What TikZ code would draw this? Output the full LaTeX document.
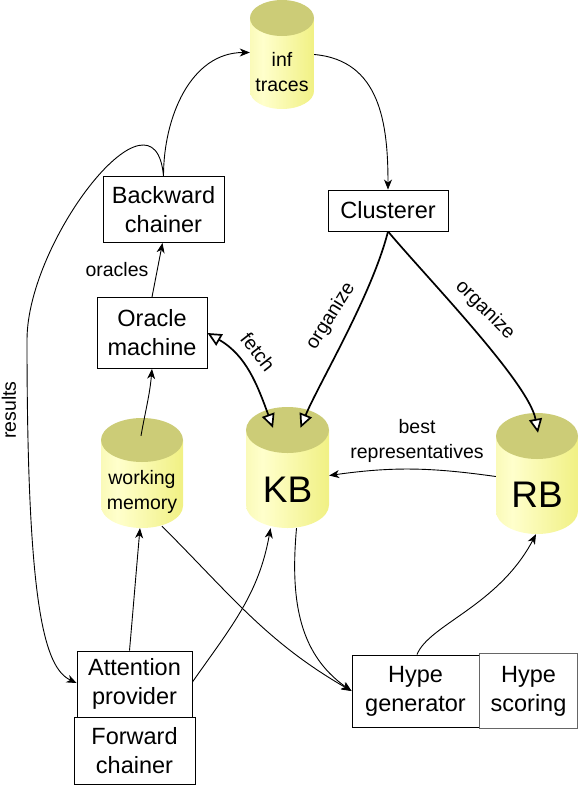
\documentclass[tikz,border=0pt]{standalone}
\usepackage{fontspec}
\setmainfont{Liberation Sans}
\usetikzlibrary{arrows.meta}

\definecolor{cylA}{HTML}{EEEE88}
\definecolor{cylB}{HTML}{FFFFCC}
\definecolor{cylC}{HTML}{EEEE77}
\definecolor{cylD}{HTML}{A8A850}
\definecolor{cylTop}{HTML}{CCCC77}
\pgfdeclarehorizontalshading{cylbody}{100bp}{color(0bp)=(cylA); color(35bp)=(cylB); color(82bp)=(cylC); color(100bp)=(cylD)}

\tikzset{
  stl/.tip={Stealth[length=10pt,width=8pt,inset=3pt]},
  tri/.tip={Triangle[open,length=14pt,width=13pt,fill=white]}
}

\begin{document}
\begin{tikzpicture}[x=1pt, y=1pt,
    box/.style={draw, line width=0.9pt, align=center, inner sep=0pt, font=\fontsize{23.5}{29}\selectfont},
    lbl/.style={align=center, inner sep=0pt, font=\fontsize{19.5}{24.5}\selectfont},
    cyl/.style n args={3}{minimum width=#1, minimum height=#2, inner sep=0pt,
      path picture={
        \shade[shading=cylbody] ([yshift=#3]path picture bounding box.south west)
          arc[start angle=180, end angle=360, x radius=#1/2, y radius=#3]
          -- ([yshift=-#3]path picture bounding box.north east)
          -- ([yshift=-#3]path picture bounding box.north west) -- cycle;
        \fill[cylTop] ([yshift=-#3]path picture bounding box.north) ellipse[x radius=#1/2, y radius=#3];
      }},
    arr/.style={-stl, line width=0.9pt},
    fat/.style={-tri, line width=1.7pt}]
    \useasboundingbox (0, 0) rectangle (580, -785);

    % stores
    \node [cyl={64pt}{109pt}{18pt}] (inf) at (282, -54.5) {};
    \node [lbl] (inftxt) at ([yshift=-17.5pt]inf.center) {inf\\traces};
    \node [cyl={82pt}{110pt}{22pt}] (wm) at (142, -473) {};
    \node [lbl] (wmtxt) at ([yshift=-19pt]wm.center) {working\\memory};
    \node [cyl={83pt}{121pt}{23pt}] (kb) at (287.5, -467.5) {};
    \node [inner sep=0pt, font=\fontsize{37}{40}\selectfont] (kbtxt) at ([yshift=-22.5pt]kb.center) {KB};
    \node [cyl={82pt}{121pt}{23pt}] (rb) at (537, -473.5) {};
    \node [inner sep=0pt, font=\fontsize{37}{40}\selectfont] (rbtxt) at ([yshift=-21.5pt]rb.center) {RB};

    % modules
    \node [box, minimum width=121pt, minimum height=66pt] (back) at (163.5, -209.5) {Backward\\chainer};
    \node [box, minimum width=110pt, minimum height=71pt] (orac) at (152, -333) {Oracle\\machine};
    \node [box, minimum width=120pt, minimum height=41pt] (clus) at (388, -210.5) {Clusterer};
    \node [box, minimum width=115pt, minimum height=66pt] (attn) at (134.5, -684) {Attention\\provider};
    \node [box, minimum width=121pt, minimum height=67pt] (fwd) at (134.5, -750.5) {Forward\\chainer};
    \node [box, minimum width=127pt, minimum height=72pt] (hgen) at (415.5, -691) {Hype\\generator};
    \node [box, draw=black!60, line width=1.6pt, minimum width=98pt, minimum height=75pt] (hsc) at (528.5, -691) {Hype\\scoring};

    % flow
    \draw [arr] (back.north) to[out=90, in=180] ([yshift=2pt]inf.west);
    \draw [arr] (inf.east) to[out=-5, in=90, looseness=1.1] (clus.north);
    \draw [fat] (clus.south) .. controls (372, -295) and (318, -385) .. ([xshift=13pt, yshift=-21pt]kb.north);
    \draw [fat] (clus.south) .. controls (428, -279) and (529, -383) .. ([xshift=1pt, yshift=-20pt]rb.north);
    \draw [line width=1.7pt, tri-tri] (orac.east) to[out=-30, in=110] ([xshift=-14.5pt, yshift=-21pt]kb.north);
    \draw [arr] ([xshift=-1pt, yshift=-18pt]wm.north) to[out=80, in=-95] (orac.south);
    \draw [arr] (orac.north) -- ([xshift=-1pt]back.south);
    \coordinate (rbend) at (27, -340);
    \draw [arr] (back.north) to[out=95, in=90, looseness=1.2] (rbend)
      .. controls (27, -610) and (45, -668) .. ([yshift=1pt]attn.west);
    \draw [arr] ([xshift=-5pt]attn.north) to[out=85, in=-95] ([xshift=-2pt]wm.south);
    \draw [arr] ([yshift=2pt]attn.east) to[out=55, in=-100] ([xshift=-17pt]kb.south);
    \draw [arr] ([xshift=20pt, yshift=2pt]wm.south) to[out=-45, in=150] (hgen.west);
    \draw [arr] ([xshift=9pt]kb.south) to[out=-95, in=145] (hgen.west);
    \draw [arr] ([xshift=1.5pt]hgen.north) .. controls +(12, 30) and +(-38, -72) .. ([xshift=-1pt]rb.south);
    \draw [arr] ([yshift=-3pt]rb.west) to[out=172, in=8] ([yshift=-8pt]kb.east);

    % labels
    \node [lbl, rotate=58] (lorgkb) at (331, -316) {organize};
    \node [lbl, rotate=-45] (lorgrb) at (485, -310) {organize};
    \node [lbl, rotate=-52] (lfetch) at (258, -352) {fetch};
    \node [lbl, rotate=90] (lres) at (9, -410) {results};
    \node [lbl] (lorc) at (117, -270) {oracles};
    \node [lbl] (lbest) at (417, -441) {best\\representatives};
\end{tikzpicture}
\end{document}
